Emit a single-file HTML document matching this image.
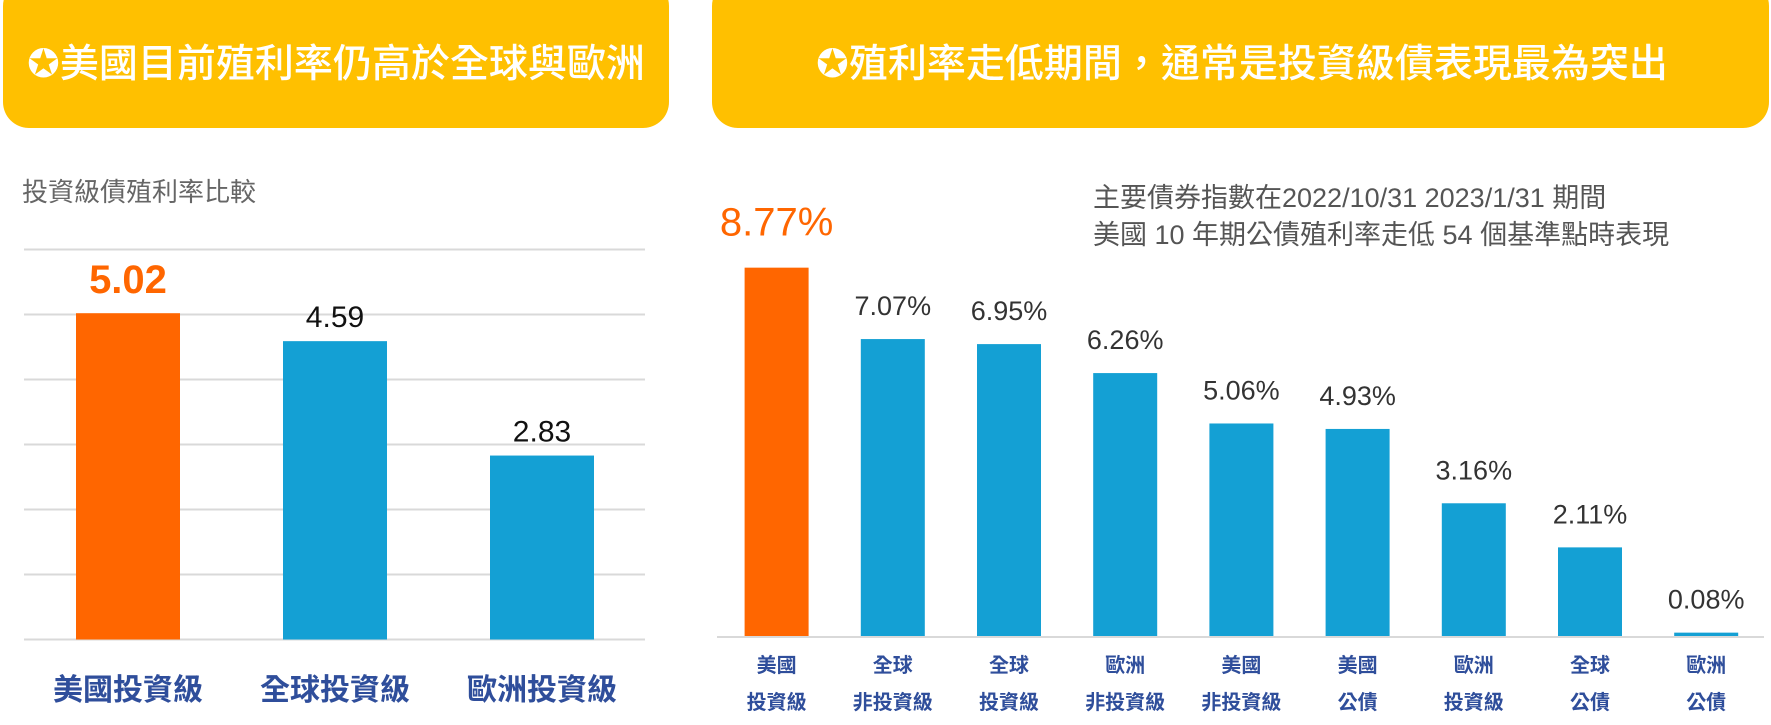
<!DOCTYPE html>
<html><head><meta charset="utf-8"><style>
html,body{margin:0;padding:0;background:#fff;width:1771px;height:725px;overflow:hidden}
svg{display:block}
text{font-family:"Liberation Sans","Noto Sans CJK TC",sans-serif}
</style></head><body>
<svg id="root" width="1771" height="725" viewBox="0 0 1771 725" xmlns="http://www.w3.org/2000/svg">
<rect x="3" y="-20" width="666" height="148" rx="26" fill="#FFC000"/>
<text x="336" y="77" font-size="39" fill="#fff" text-anchor="middle" font-weight="500">✪美國目前殖利率仍高於全球與歐洲</text>
<rect x="712" y="-20" width="1057" height="148" rx="26" fill="#FFC000"/>
<text x="1242" y="77" font-size="39" fill="#fff" text-anchor="middle" font-weight="500">✪殖利率走低期間，通常是投資級債表現最為突出</text>
<text x="22" y="201" font-size="26" fill="#666">投資級債殖利率比較</text>
<text x="1093" y="207" font-size="27" fill="#555">主要債券指數在2022/10/31 2023/1/31 期間</text>
<text x="1093" y="244" font-size="27" fill="#555">美國 10 年期公債殖利率走低 54 個基準點時表現</text>
<g id="left"></g>
<g id="right"></g>
</svg>
<script>
const leftCats=["美國投資級","全球投資級","歐洲投資級"];
const leftVals=[5.02,4.59,2.83];
const leftLabels=["5.02","4.59","2.83"];
const leftTicks=[0,1,2,3,4,5,6];
const rightCats1=["美國","全球","全球","歐洲","美國","美國","歐洲","全球","歐洲"];
const rightCats2=["投資級","非投資級","投資級","非投資級","非投資級","公債","投資級","公債","公債"];
const rightVals=[8.77,7.07,6.95,6.26,5.06,4.93,3.16,2.11,0.08];
const rightLabels=["8.77%","7.07%","6.95%","6.26%","5.06%","4.93%","3.16%","2.11%","0.08%"];
const NS="http://www.w3.org/2000/svg";
function mk(tag,attrs,parent,txt){const e=document.createElementNS(NS,tag);for(const k in attrs)e.setAttribute(k,attrs[k]);if(txt!==undefined)e.textContent=txt;parent.appendChild(e);return e;}
// left chart
const L=document.getElementById('left');
const ly=v=>639.5-v*65;
const lx=i=>76+i*207;
leftTicks.forEach(t=>{
 const g=mk('line',{x1:24,x2:645,y1:ly(t),y2:ly(t),stroke:'#d9d9d9','stroke-width':2},L);
 
 
});
leftVals.forEach((v,i)=>{
 const r=mk('rect',{x:lx(i),y:ly(v),width:104,height:v*65,fill:i===0?'#FF6600':'#14A0D4'},L);
 
 
 const t=mk('text',{x:lx(i)+52,y:ly(v)-(i===0?20:14),'font-size':i===0?40:30,'font-weight':i===0?'bold':'normal',fill:i===0?'#FF6600':'#111','text-anchor':'middle'},L,leftLabels[i]);
 
 
 const c=mk('text',{x:lx(i)+52,y:700,'font-size':30,'font-weight':'bold',fill:'#2F4E9B','text-anchor':'middle'},L,leftCats[i]);
 
 
});
// right chart
const R=document.getElementById('right');
const ry=v=>636-v*42;
const rx=i=>744.6+i*116.2;
const ax=mk('line',{x1:717,x2:1764,y1:637,y2:637,stroke:'#d9d9d9','stroke-width':2},R);


rightVals.forEach((v,i)=>{
 const r=mk('rect',{x:rx(i),y:ry(v),width:64,height:v*42,fill:i===0?'#FF6600':'#14A0D4'},R);
 
 
 const big=i===0;
 const t=mk('text',{x:rx(i)+32,y:big?ry(v)-32:ry(v)-24,'font-size':big?40:27,fill:big?'#FF6600':'#333','text-anchor':'middle'},R,rightLabels[i]);
 
 
 const c1=mk('text',{x:rx(i)+32,y:672,'font-size':20,'font-weight':'bold',fill:'#2F4E9B','text-anchor':'middle'},R,rightCats1[i]);
 
 
 const c2=mk('text',{x:rx(i)+32,y:709,'font-size':20,'font-weight':'bold',fill:'#2F4E9B','text-anchor':'middle'},R,rightCats2[i]);
 
 
});
</script>
</body></html>
